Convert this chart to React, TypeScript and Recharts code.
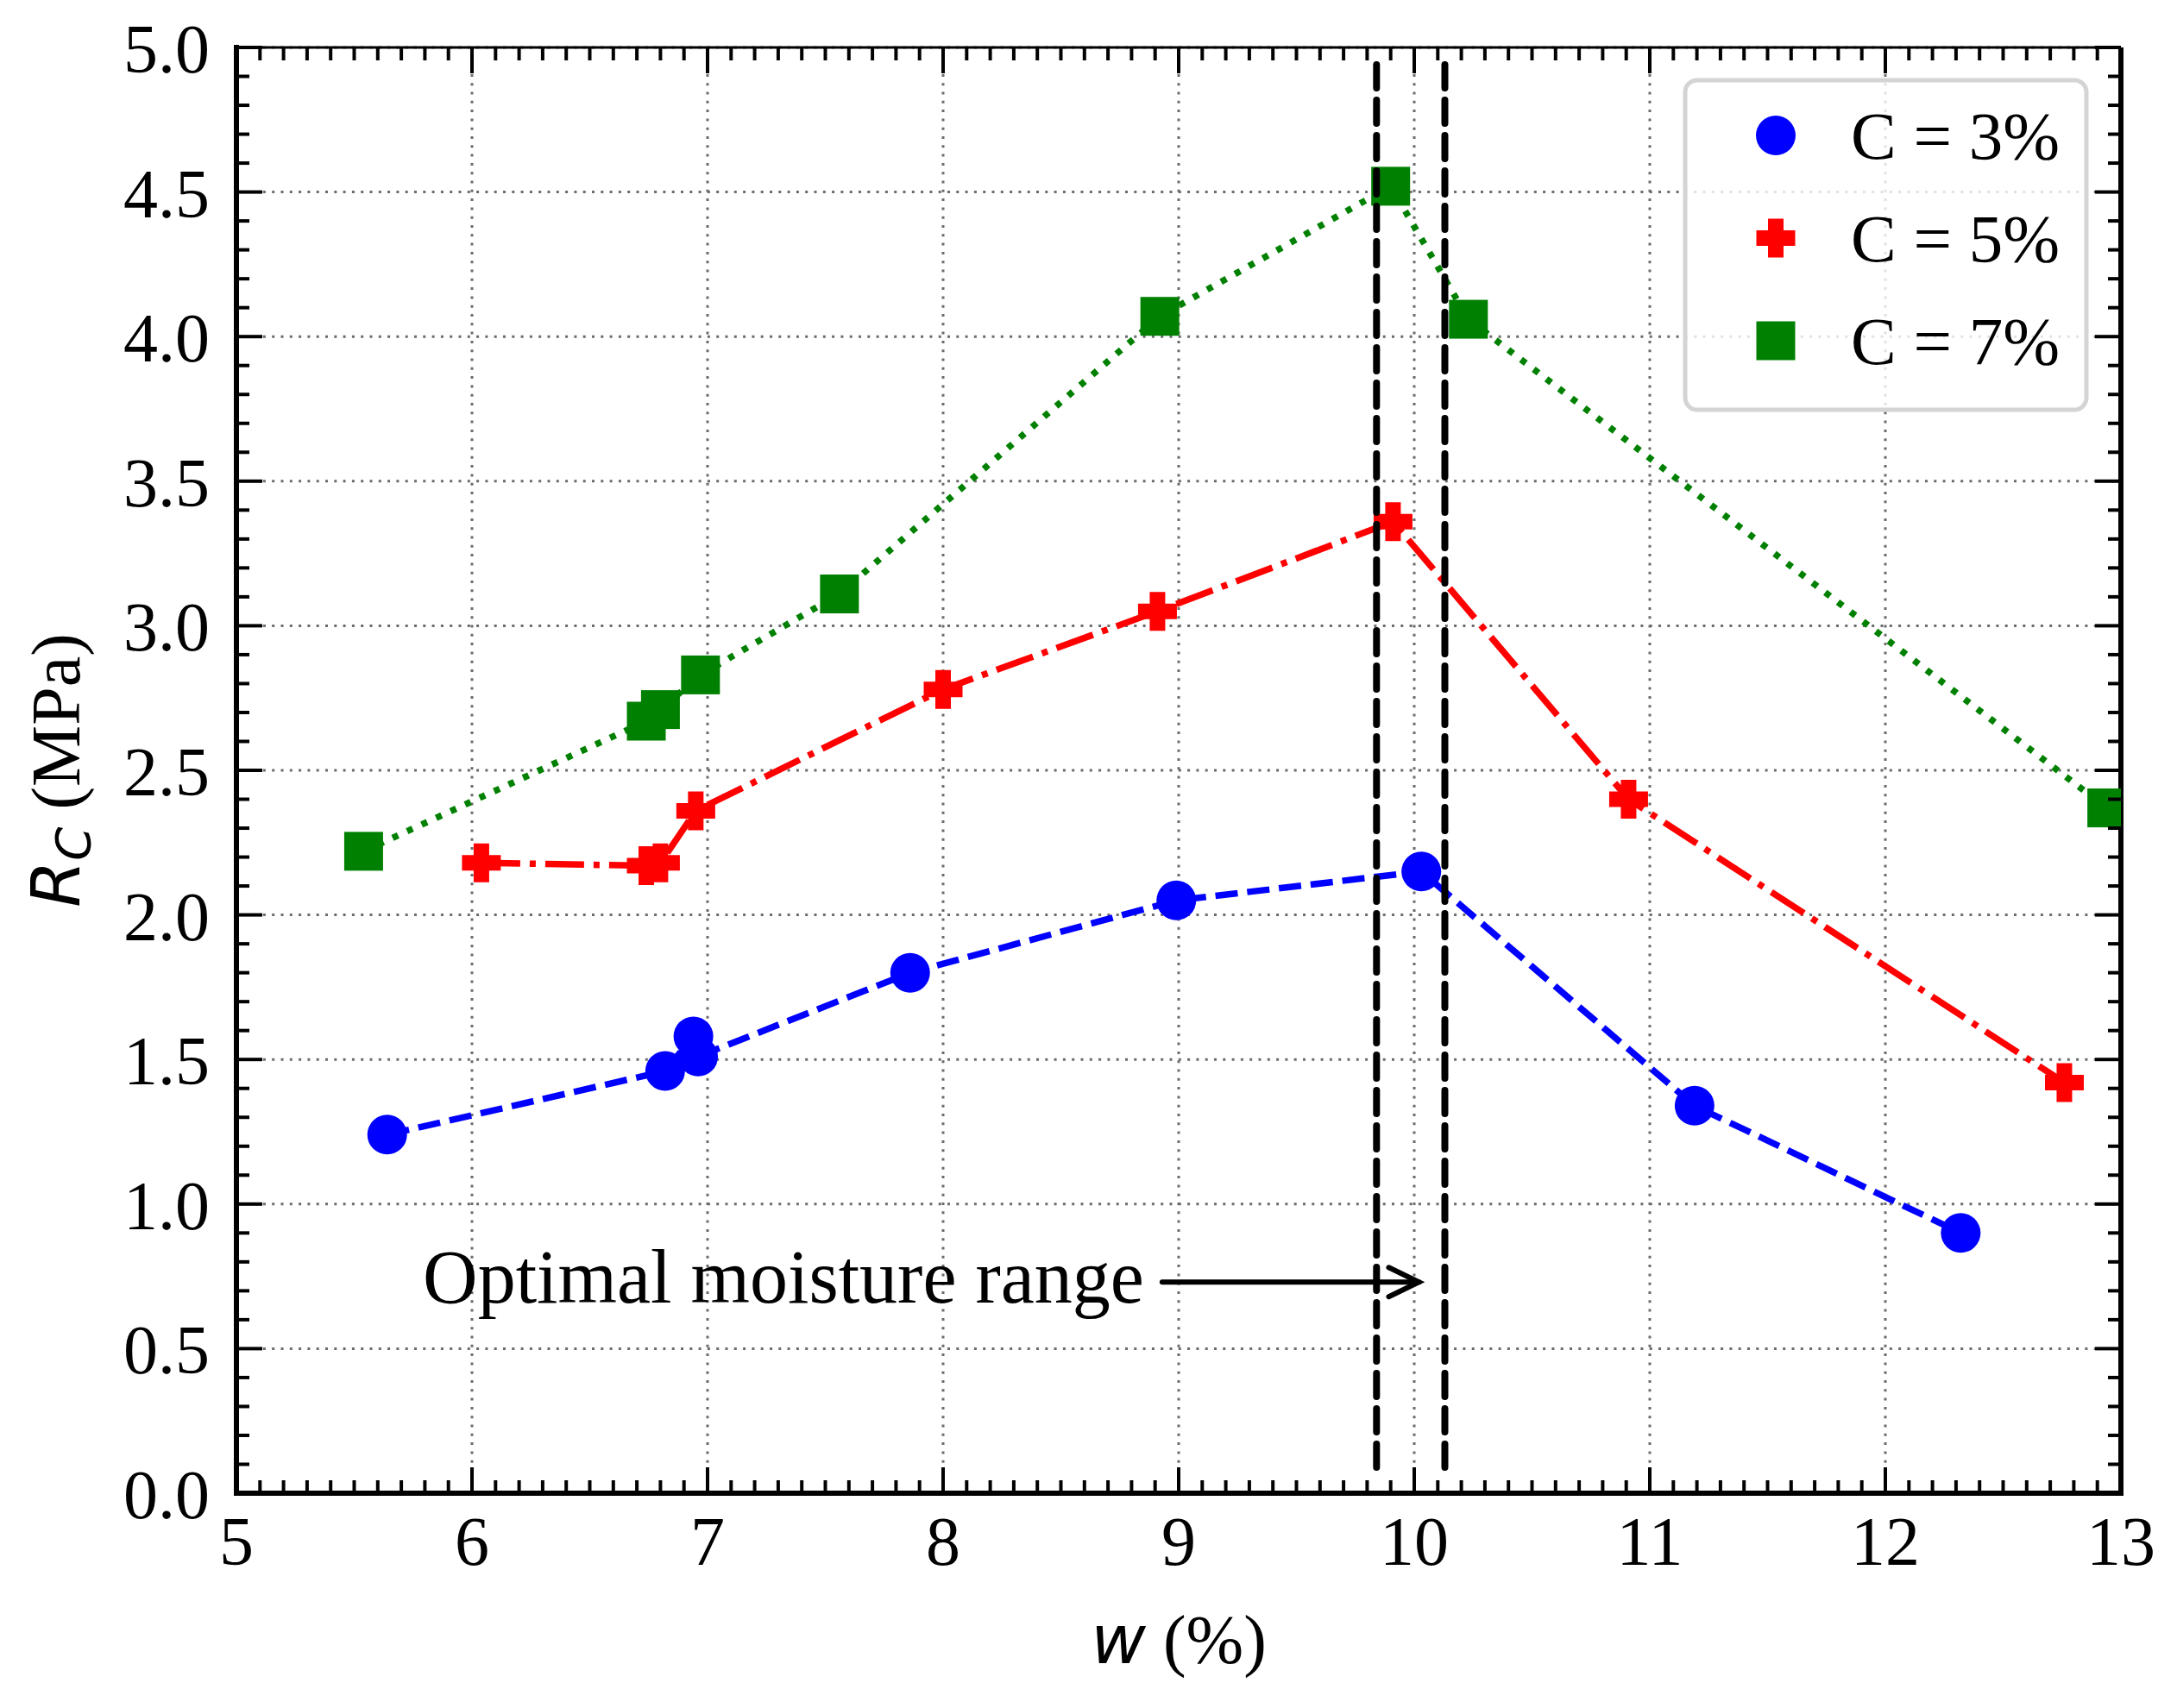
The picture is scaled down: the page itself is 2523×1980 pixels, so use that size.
import React from "react";
import { ScatterChart, Scatter, XAxis, YAxis, CartesianGrid, ReferenceLine } from "recharts";

const W = 2523;
const H = 1980;
const PLOT_LEFT = 274;
const PLOT_TOP = 55;
const PLOT_RIGHT = 2458;
const PLOT_BOTTOM = 1731;

const SERIF = '"Liberation Serif", "Times New Roman", serif';
const MATH = '"DejaVu Sans", sans-serif';

// w (%) against Rc (MPa), one pair of arrays per cement content
const wC3 = [5.64, 6.82, 6.94, 6.96, 7.86, 8.99, 10.03, 11.19, 12.32];
const rcC3 = [1.24, 1.46, 1.58, 1.51, 1.80, 2.05, 2.15, 1.34, 0.90];

const wC5 = [6.04, 6.74, 6.80, 6.95, 8.00, 8.91, 9.91, 10.91, 12.76];
const rcC5 = [2.18, 2.17, 2.18, 2.36, 2.78, 3.05, 3.36, 2.40, 1.42];

const wC7 = [5.54, 6.74, 6.80, 6.97, 7.56, 8.92, 9.90, 10.23, 12.94];
const rcC7 = [2.22, 2.67, 2.71, 2.83, 3.11, 4.07, 4.52, 4.06, 2.37];

const seriesNames = ["C = 3%", "C = 5%", "C = 7%"];

const xMajor = [5, 6, 7, 8, 9, 10, 11, 12, 13];
const yMajor = [0, 0.5, 1.0, 1.5, 2.0, 2.5, 3.0, 3.5, 4.0, 4.5, 5.0];

// optimal moisture band + annotation arrow
const optimalW = [9.84, 10.13];
const bandRc = [0.08, 4.94];
const arrowW = [8.93, 10.02];
const arrowRc = 0.73;
const annotation = "Optimal moisture range";

const toPoints = (w: number[], rc: number[]) => w.map((v, i) => ({ w: v, rc: rc[i] }));

// minor ticks every 0.1 between the first and last major tick
const minorSteps = (major: number[]) => {
  const out: number[] = [];
  const a = Math.round(major[0] * 10);
  const b = Math.round(major[major.length - 1] * 10);
  for (let i = a; i <= b; i++) out.push(i / 10);
  return out;
};
const xTicks = minorSteps(xMajor);
const yTicks = minorSteps(yMajor);

const isMajorX = (v: number) => xMajor.some((m) => Math.abs(m - v) < 1e-6);
const isMajorY = (v: number) => yMajor.some((m) => Math.abs(m - v) < 1e-6);

const TICK_W = 4;

function XTick(props: any) {
  const { x, y, payload } = props;
  const major = isMajorX(payload.value);
  const len = major ? 30 : 15;
  return (
    <g>
      <line x1={x} x2={x} y1={y} y2={y - len} stroke="#000" strokeWidth={TICK_W} />
      <line x1={x} x2={x} y1={PLOT_TOP} y2={PLOT_TOP + len} stroke="#000" strokeWidth={TICK_W} />
      {major && (
        <text x={x} y={y + 83} textAnchor="middle" fontFamily={SERIF} fontSize={80} fill="#000">
          {payload.value}
        </text>
      )}
    </g>
  );
}

function YTick(props: any) {
  const { x, y, payload } = props;
  const major = isMajorY(payload.value);
  const len = major ? 30 : 15;
  return (
    <g>
      <line x1={x} x2={x + len} y1={y} y2={y} stroke="#000" strokeWidth={TICK_W} />
      <line x1={PLOT_RIGHT} x2={PLOT_RIGHT - len} y1={y} y2={y} stroke="#000" strokeWidth={TICK_W} />
      {major && (
        <text x={x - 31} y={y + 29} textAnchor="end" fontFamily={SERIF} fontSize={80} fill="#000">
          {payload.value.toFixed(1)}
        </text>
      )}
    </g>
  );
}

function XLabel(props: any) {
  const vb = props.viewBox ?? { x: PLOT_LEFT, y: PLOT_BOTTOM, width: PLOT_RIGHT - PLOT_LEFT, height: H - PLOT_BOTTOM };
  const cx = vb.x + vb.width / 2;
  return (
    <text x={cx} y={PLOT_BOTTOM + 197} textAnchor="middle" fontFamily={SERIF} fontSize={80} fill="#000">
      <tspan fontFamily={MATH} fontStyle="italic" fontSize={78}>w</tspan>
      <tspan> (%)</tspan>
    </text>
  );
}

function YLabel(props: any) {
  const vb = props.viewBox ?? { x: 0, y: PLOT_TOP, width: PLOT_LEFT, height: PLOT_BOTTOM - PLOT_TOP };
  const cx = 92;
  const cy = vb.y + vb.height / 2;
  return (
    <text
      x={cx}
      y={cy}
      transform={`rotate(-90 ${cx} ${cy})`}
      textAnchor="middle"
      fontFamily={SERIF}
      fontSize={80}
      fill="#000"
    >
      <tspan fontFamily={MATH} fontStyle="italic" fontSize={78}>R</tspan>
      <tspan fontFamily={MATH} fontStyle="italic" fontSize={56} dy={12}>C</tspan>
      <tspan dy={-12}> (MPa)</tspan>
    </text>
  );
}

const Dot = ({ cx, cy }: any) => <circle cx={cx} cy={cy} r={23} fill="#0000ff" />;

const plusPath = (cx: number, cy: number) => {
  const a = 22.5;
  const b = 9;
  return `M${cx - b},${cy - a}h${2 * b}v${a - b}h${a - b}v${2 * b}h${-(a - b)}v${a - b}h${-2 * b}v${-(a - b)}h${-(a - b)}v${-2 * b}h${a - b}z`;
};
const Plus = ({ cx, cy }: any) => <path d={plusPath(cx, cy)} fill="#ff0000" />;

const Square = ({ cx, cy }: any) => <rect x={cx - 22.5} y={cy - 22.5} width={45} height={45} fill="#008000" />;

const NoMarker = () => <g />;

function ArrowShape(props: any) {
  const { x1, y1, x2, y2 } = props;
  return (
    <g>
      <line x1={x1} y1={y1} x2={x2} y2={y2} stroke="#000" strokeWidth={6} strokeLinecap="round" />
      <polyline
        points={`${x2 - 35},${y2 - 17} ${x2},${y2} ${x2 - 35},${y2 + 17}`}
        fill="none"
        stroke="#000"
        strokeWidth={6}
        strokeLinecap="round"
      />
      <text x={x1 - 21} y={y1 + 24} textAnchor="end" fontFamily={SERIF} fontSize={88} fill="#000">
        {annotation}
      </text>
    </g>
  );
}

function LegendBox() {
  const rows = [157, 276, 395];
  const mx = 2058;
  return (
    <svg width={W} height={H} style={{ position: "absolute", left: 0, top: 0, pointerEvents: "none" }}>
      <rect x={1953} y={93} width={465} height={382} rx={14} fill="#fff" fillOpacity={0.8} stroke="#d4d4d4" strokeWidth={5} />
      <Dot cx={mx} cy={rows[0]} />
      <Plus cx={mx} cy={rows[1]} />
      <Square cx={mx} cy={rows[2]} />
      {seriesNames.map((n, i) => (
        <text key={n} x={2145} y={rows[i] + 27} fontFamily={SERIF} fontSize={79} fill="#000">
          {n}
        </text>
      ))}
    </svg>
  );
}

export default function App() {
  return (
    <div style={{ position: "absolute", left: 0, top: 0, width: W, height: H, background: "#fff" }}>
      <ScatterChart width={W} height={H} margin={{ top: PLOT_TOP, right: W - PLOT_RIGHT, bottom: 0, left: 0 }}>
        <CartesianGrid
          stroke="#6b6b6b"
          strokeWidth={3}
          strokeDasharray="3 7.3"
          verticalValues={xMajor}
          horizontalValues={yMajor}
        />
        <XAxis
          type="number"
          dataKey="w"
          domain={[5, 13]}
          allowDataOverflow
          ticks={xTicks}
          interval={0}
          tickSize={0}
          tickMargin={0}
          tickLine={false}
          tick={XTick}
          height={H - PLOT_BOTTOM}
          axisLine={{ stroke: "#000", strokeWidth: 6, strokeLinecap: "square" }}
          label={XLabel}
        />
        <YAxis
          type="number"
          dataKey="rc"
          domain={[0, 5]}
          allowDataOverflow
          ticks={yTicks}
          interval={0}
          tickSize={0}
          tickMargin={0}
          tickLine={false}
          tick={YTick}
          width={PLOT_LEFT}
          axisLine={{ stroke: "#000", strokeWidth: 6, strokeLinecap: "square" }}
          label={YLabel}
        />
        <ReferenceLine y={5} stroke="#000" strokeWidth={3} />
        <ReferenceLine x={13} stroke="#000" strokeWidth={6} />
        <ReferenceLine
          segment={[{ x: arrowW[0], y: arrowRc }, { x: arrowW[1], y: arrowRc }]}
          shape={ArrowShape}
        />
        <Scatter
          name={seriesNames[0]}
          data={toPoints(wC3, rcC3)}
          fill="#0000ff"
          line={{ stroke: "#0000ff", strokeWidth: 7.5, strokeDasharray: "26 11" }}
          lineType="joint"
          shape={Dot}
          isAnimationActive={false}
        />
        <Scatter
          name={seriesNames[1]}
          data={toPoints(wC5, rcC5)}
          fill="#ff0000"
          line={{ stroke: "#ff0000", strokeWidth: 7.5, strokeDasharray: "45 11 7 11" }}
          lineType="joint"
          shape={Plus}
          isAnimationActive={false}
        />
        <Scatter
          name={seriesNames[2]}
          data={toPoints(wC7, rcC7)}
          fill="#008000"
          line={{ stroke: "#008000", strokeWidth: 7.5, strokeDasharray: "7 11.5" }}
          lineType="joint"
          shape={Square}
          isAnimationActive={false}
        />
        {optimalW.map((w) => (
          <Scatter
            key={w}
            data={[{ w, rc: bandRc[1] }, { w, rc: bandRc[0] }]}
            fill="#000"
            line={{ stroke: "#000", strokeWidth: 8, strokeDasharray: "27 14", strokeLinecap: "round" }}
            lineType="joint"
            shape={NoMarker}
            isAnimationActive={false}
          />
        ))}
      </ScatterChart>
      <LegendBox />
    </div>
  );
}
